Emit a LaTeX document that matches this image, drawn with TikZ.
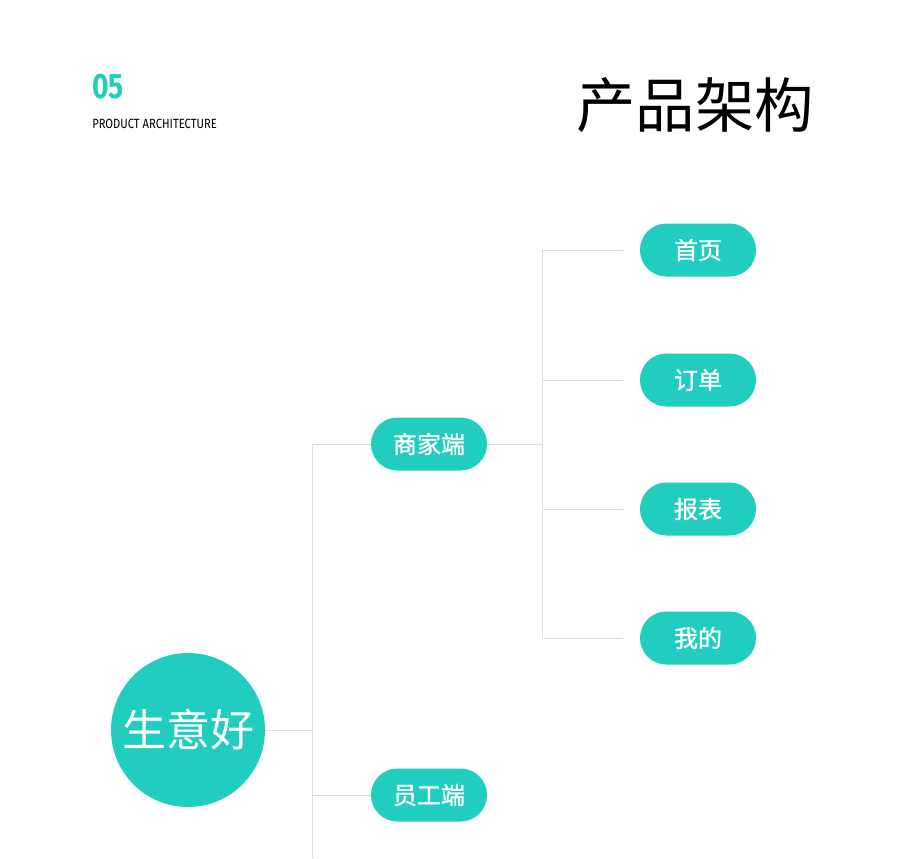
\documentclass[tikz,border=0pt]{standalone}
\usepackage{fontspec}
\setmainfont{Fira Sans}
\newfontfamily\cjk{Noto Sans CJK SC}
\newfontfamily\cjkmed[FakeBold=1.3]{Noto Sans CJK SC}
\newfontfamily\narrow[FakeStretch=0.84]{Fira Sans}
\newfontfamily\narrowbold[FakeStretch=0.8]{Fira Sans Bold}
\definecolor{teal}{HTML}{21CDBE}
\definecolor{linegray}{HTML}{DEDEDE}
\tikzset{
  pill/.style={rectangle,fill=teal,text=white,rounded corners=19.8pt,
    minimum width=87pt,minimum height=39.75pt,inner sep=0pt,
    font=\cjkmed\fontsize{18}{18}\selectfont},
  link/.style={draw=linegray,line width=0.75pt},
}
\begin{document}
\begin{tikzpicture}[x=0.75pt,y=-0.75pt]
	\useasboundingbox[fill=white] (0,0) rectangle (900,858);
	\node[anchor=base west,inner sep=0pt,text=teal,font=\narrowbold\fontsize{26.5}{26.5}\selectfont] (num) at (92,98) {05};
	\node[anchor=base west,inner sep=0pt,font=\narrow\fontsize{10}{10}\selectfont] (sub) at (92,128.5) {PRODUCT ARCHITECTURE};
	\node[inner sep=0pt,font=\cjk\fontsize{44.5}{44.5}\selectfont] (title) at (695,105) {产品架构};
	\node[circle,fill=teal,text=white,minimum size=115.5pt,inner sep=0pt,font=\cjk\fontsize{33}{33}\selectfont] (root) at (188,730) {生意好};
	\node[pill] (biz) at (429,444) {商家端};
	\node[pill] (staff) at (429,795) {员工端};
	\node[pill] (home) at (698,250) {首页};
	\node[pill] (order) at (698,380) {订单};
	\node[pill] (report) at (698,509) {报表};
	\node[pill] (mine) at (698,638) {我的};
	% spines
	\coordinate (spineend) at (312,858);
	\coordinate (hub) at (542,0);
	\draw[link] (biz.west) -| (spineend);
	\draw[link] (root.east) -- (root.east -| spineend);
	\draw[link] (staff.west) -- (staff.west -| spineend);
	\draw[link] (biz.east) -- (biz.east -| hub);
	\draw[link] (home.west -| hub) -- (mine.west -| hub);
	\foreach \leaf in {home,order,report,mine}
		\draw[link,shorten >=12.75pt] (\leaf.west -| hub) -- (\leaf.west);
\end{tikzpicture}
\end{document}
